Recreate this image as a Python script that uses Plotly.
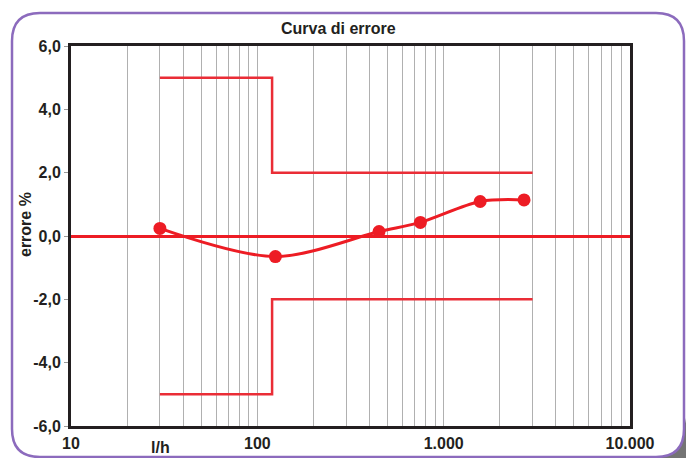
import plotly.graph_objects as go

# ---- data ----
portata = [30, 125, 450, 750, 1570, 2700]          # l/h
errore = [0.24, -0.65, 0.14, 0.43, 1.09, 1.14]      # %

lim_sup_x = [30, 120, 120, 3000]
lim_sup_y = [5.0, 5.0, 2.0, 2.0]
lim_inf_x = [30, 120, 120, 3000]
lim_inf_y = [-5.0, -5.0, -2.0, -2.0]

x_grid = [m * 10 ** e for e in (1, 2, 3) for m in range(1, 10)] + [10000]
x_label_map = {10: "10", 100: "100", 1000: "1.000", 10000: "10.000"}
x_labels = [x_label_map.get(v, "") for v in x_grid]
y_ticks = [-6, -4, -2, 0, 2, 4, 6]
y_labels = ["-6,0", "-4,0", "-2,0", "0,0", "2,0", "4,0", "6,0"]

titolo = "Curva di errore"
titolo_y = "errore %"
titolo_x = "l/h"

# ---- layout geometry (pixels) ----
W, H = 686, 458
L, R, T, B = 71, 56, 46, 32
PW, PH = W - L - R, H - T - B


def px(x):
    return (x - L) / PW


def py(y):
    return (H - B - y) / PH


RED = "#ed1c24"
INK = "#231f20"
FONT = "Liberation Sans, Arial, sans-serif"

fig = go.Figure()

fig.add_trace(go.Scatter(x=lim_sup_x, y=lim_sup_y, mode="lines",
                         line=dict(color="#ea2d36", width=2.5), hoverinfo="skip"))
fig.add_trace(go.Scatter(x=lim_inf_x, y=lim_inf_y, mode="lines",
                         line=dict(color="#ea2d36", width=2.5), hoverinfo="skip"))
fig.add_trace(go.Scatter(x=portata, y=errore, mode="lines+markers",
                         line=dict(color=RED, width=3, shape="spline", smoothing=0.9),
                         marker=dict(color=RED, size=13)))

# rounded purple frame around the whole chart
x0, y0, x1, y1, r = 12, 13, 684, 457, 28
path = (
    f"M {px(x0 + r)} {py(y0)} L {px(x1 - r)} {py(y0)} "
    f"Q {px(x1)} {py(y0)} {px(x1)} {py(y0 + r)} "
    f"L {px(x1)} {py(y1 - r)} "
    f"Q {px(x1)} {py(y1)} {px(x1 - r)} {py(y1)} "
    f"L {px(x0 + r)} {py(y1)} "
    f"Q {px(x0)} {py(y1)} {px(x0)} {py(y1 - r)} "
    f"L {px(x0)} {py(y0 + r)} "
    f"Q {px(x0)} {py(y0)} {px(x0 + r)} {py(y0)} Z"
)
shadow = (
    f"M {px(686)} {py(418)} L {px(686)} {py(458)} L {px(652)} {py(458)} "
    f"L {px(x1 - r)} {py(y1)} Q {px(x1)} {py(y1)} {px(x1)} {py(y1 - r)} Z"
)
fig.add_shape(type="path", path=shadow, xref="paper", yref="paper",
              fillcolor="rgba(70,70,70,0.75)", line=dict(width=0), layer="above")
fig.add_shape(type="path", path=path, xref="paper", yref="paper",
              line=dict(color="#8c6bbd", width=2.5), layer="above")

ann_font = dict(family=FONT, size=16, color=INK, weight="bold")
fig.add_annotation(text=titolo, x=px(338), y=py(29), xref="paper", yref="paper",
                   showarrow=False, font=ann_font, xanchor="center", yanchor="middle")
fig.add_annotation(text=titolo_y, x=px(25), y=py(225), xref="paper", yref="paper",
                   showarrow=False, font=ann_font, textangle=-90,
                   xanchor="center", yanchor="middle")
fig.add_annotation(text=titolo_x, x=px(160), y=py(447), xref="paper", yref="paper",
                   showarrow=False, font=ann_font, xanchor="center", yanchor="middle")

tick_font = dict(family=FONT, size=16, color=INK, weight="bold")

fig.update_xaxes(type="log", range=[1, 4], tickvals=x_grid, ticktext=x_labels,
                 showgrid=True, gridcolor="#b0b0b0", gridwidth=1.2,
                 showline=True, linecolor=INK, linewidth=3, mirror=True,
                 ticks="outside", ticklen=1, tickcolor="rgba(0,0,0,0)",
                 tickfont=tick_font, zeroline=False, automargin=False)
fig.update_yaxes(range=[-6, 6], tickvals=y_ticks, ticktext=y_labels,
                 showgrid=False, zeroline=True, zerolinecolor=RED, zerolinewidth=3,
                 showline=True, linecolor=INK, linewidth=3, mirror=True,
                 ticks="outside", ticklen=4, tickcolor="#9a9a9a",
                 tickfont=tick_font, automargin=False)

fig.update_layout(width=W, height=H, margin=dict(l=L, r=R, t=T, b=B, autoexpand=False),
                  paper_bgcolor="white", plot_bgcolor="white",
                  showlegend=False)

fig.write_html("out.html", config={"displayModeBar": False},
               post_script="document.body.style.margin='0';document.body.style.overflow='hidden';")
